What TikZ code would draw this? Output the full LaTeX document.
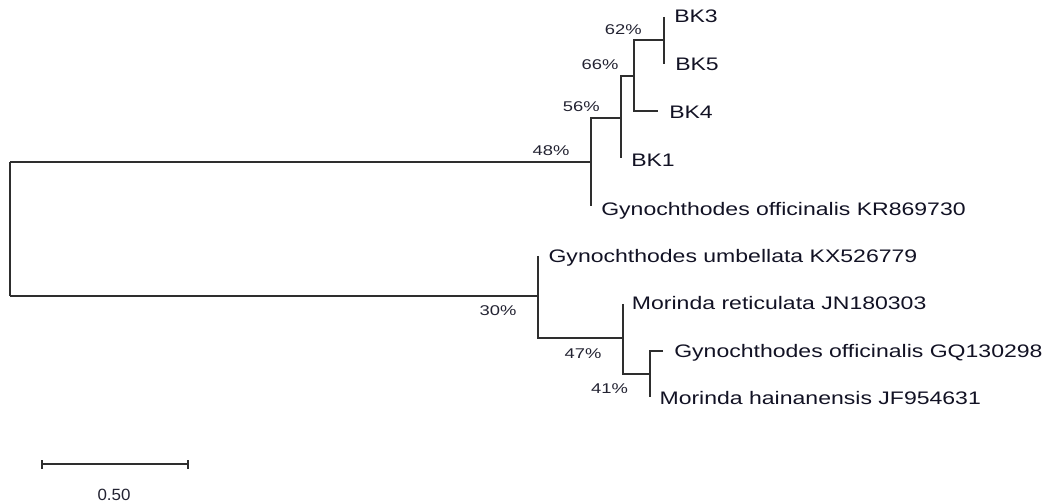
\documentclass[tikz,border=0pt]{standalone}
\usepackage{fontspec}
\setmainfont{Liberation Sans}
\newfontfamily\leaffont[FakeStretch=1.27]{Liberation Sans}
\newfontfamily\pctfont[FakeStretch=1.3]{Liberation Sans}
\newfontfamily\scalefont[FakeStretch=1.04]{Liberation Sans}
\definecolor{txt}{RGB}{18,18,36}
\definecolor{pct}{RGB}{35,35,50}
\begin{document}
\begin{tikzpicture}[x=0.75pt,y=-0.75pt,
  branch/.style={draw=black!82,line width=1.05pt},
  leaf/.style={anchor=base west,inner sep=0pt,text=txt,font=\leaffont\fontsize{13.6pt}{16pt}\selectfont},
  support/.style={anchor=base,inner sep=0pt,text=pct,font=\pctfont\fontsize{10.6pt}{12pt}\selectfont},
  scalelbl/.style={anchor=base,inner sep=0pt,text=pct,font=\scalefont\fontsize{12.2pt}{14pt}\selectfont}]
\useasboundingbox (0,0) rectangle (1046,502);
% internal nodes
\coordinate (rt) at (10,162);
\coordinate (rb) at (10,296);
\coordinate (A) at (591,162);
\coordinate (B) at (621,118);
\coordinate (C) at (634,76);
\coordinate (D) at (664,40);
\coordinate (E) at (538,296);
\coordinate (F) at (623,338);
\coordinate (G) at (650,374);
% leaf tips
\coordinate (BK3t) at (664,17);
\coordinate (BK5t) at (664,64);
\coordinate (BK4t) at (658,111);
\coordinate (BK1t) at (621,158);
\coordinate (KRt) at (591,206);
\coordinate (UMt) at (538,256);
\coordinate (MRt) at (623,304);
\coordinate (GQt) at (663,351);
\coordinate (MHt) at (650,397);
% branches
\draw[branch] (rt) -- (rb);
\draw[branch] (rt) -- (A);
\draw[branch] (B) -| (KRt);
\draw[branch] (C) -| (BK1t);
\draw[branch] (D) -| (C|-BK4t) -- (BK4t);
\draw[branch] (BK3t) -- (BK5t);
\draw[branch] (rb) -- (E);
\draw[branch] (UMt) -- (E|-F) -- (F);
\draw[branch] (MRt) -- (F|-G) -- (G);
\draw[branch] (GQt) -| (MHt);
% leaf labels
\node[leaf] (BK3) at (674,22.3) {BK3};
\node[leaf] (BK5) at (675,70.7) {BK5};
\node[leaf] (BK4) at (669,118.3) {BK4};
\node[leaf] (BK1) at (631,166.7) {BK1};
\node[leaf] (KR) at (601,215.5) {Gynochthodes officinalis KR869730};
\node[leaf] (UM) at (548.3,262.3) {Gynochthodes umbellata KX526779};
\node[leaf] (MR) at (631.7,310) {Morinda reticulata JN180303};
\node[leaf] (GQ) at (674,357.3) {Gynochthodes officinalis GQ130298};
\node[leaf] (MH) at (659.3,404) {Morinda hainanensis JF954631};
% support values
\node[support] (p62) at (623.3,34.3) {62\%};
\node[support] (p66) at (600,69.3) {66\%};
\node[support] (p56) at (581.3,111.7) {56\%};
\node[support] (p48) at (551,155.7) {48\%};
\node[support] (p30) at (498,315.7) {30\%};
\node[support] (p47) at (583,358.3) {47\%};
\node[support] (p41) at (609.5,393.3) {41\%};
% scale bar
\coordinate (sbL) at (42,464);
\coordinate (sbR) at (188,464);
\coordinate (sbLt) at (42,460);
\coordinate (sbLb) at (42,469);
\coordinate (sbRt) at (188,460);
\coordinate (sbRb) at (188,469);
\draw[branch] (sbL) -- (sbR);
\draw[branch] (sbLt) -- (sbLb);
\draw[branch] (sbRt) -- (sbRb);
\node[scalelbl] (sblbl) at (114,500) {0.50};
\end{tikzpicture}
\end{document}
